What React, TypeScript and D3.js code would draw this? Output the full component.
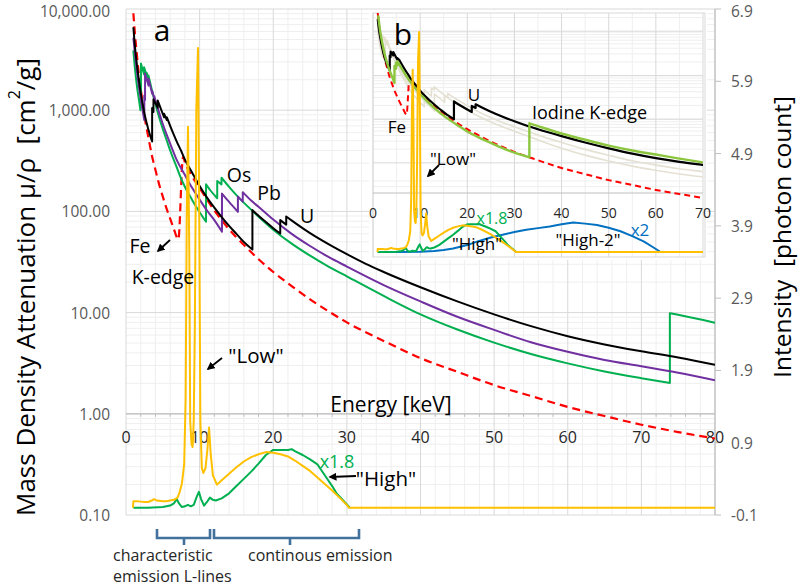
import React from 'react';
import * as d3 from 'd3';

type P = [number, number];

// ---------- attenuation data (E keV, mu/rho cm2/g); repeated E = absorption edge ----------
const feData: P[] = [
  [1, 9085], [1.25, 5300], [1.5, 3399], [1.75, 2230], [2, 1626], [2.5, 880], [3, 557.6], [3.5, 362],
  [4, 256.7], [4.5, 185], [5, 139.8], [5.5, 107], [6, 84.8], [6.5, 67], [7.11, 53], [7.75, 345],
  [8, 305.6], [9, 221], [10, 170.6], [11, 131], [12, 102], [13, 82], [14, 66.4], [15, 55.5],
  [17.5, 36.5], [20, 25.2], [22.5, 18.3], [25, 13.5], [27.5, 10.3], [30, 8.0], [35, 5.25], [40, 3.55],
  [45, 2.6], [50, 1.92], [55, 1.5], [60, 1.17], [65, 0.95], [70, 0.78], [75, 0.66], [80, 0.57],
];
const uData: P[] = [
  [1, 6600], [1.25, 4000], [1.5, 2750], [2, 1480], [2.5, 930], [3, 660], [3.55, 490], [3.55, 1050],
  [3.73, 960], [3.73, 1280], [4.3, 1060], [4.3, 1250], [4.8, 1000], [5.18, 850], [5.18, 920],
  [5.55, 800], [5.55, 850], [6, 700], [6.5, 570], [7, 470], [7.5, 395], [8, 325], [9, 240], [10, 178],
  [11, 137], [12, 109], [13, 88], [14, 72], [15, 60], [16, 50], [17.17, 42], [17.17, 103], [18, 90.6],
  [19, 78.4], [20, 68.3], [20.95, 60.4], [20.95, 82], [21.76, 74], [21.76, 89], [23, 76.6], [25, 61],
  [27.5, 47.5], [30, 37.8], [32.5, 30.5], [35, 25.2], [40, 17.8], [45, 12.9], [50, 9.6], [55, 7.35],
  [60, 5.85], [65, 4.85], [70, 4.15], [75, 3.6], [80, 3.05],
];
const pbData: P[] = [
  [1, 5210], [1.25, 3400], [1.5, 2356], [2, 1285], [2.484, 800], [2.484, 1400], [2.586, 1260],
  [2.586, 2300], [3.066, 1750], [3.066, 2050], [3.554, 1450], [3.554, 1560], [3.851, 1300],
  [3.851, 1370], [4, 1250], [4.5, 950], [5, 730], [5.5, 580], [6, 467], [7, 310], [8, 228.7],
  [9, 170], [10, 130.6], [11, 102], [12, 82], [13.035, 63], [13.035, 150], [14, 124], [15.2, 99],
  [15.2, 140], [15.86, 125], [15.86, 155], [17, 128], [18, 111], [20, 83], [22.5, 60], [25, 45.5],
  [27.5, 35.5], [30, 28.5], [35, 18.7], [40, 12.9], [45, 9.1], [50, 6.75], [55, 5.1], [60, 4.1],
  [65, 3.4], [70, 2.95], [75, 2.55], [80, 2.15],
];
const osData: P[] = [
  [1, 3900], [1.25, 2450], [1.5, 1700], [1.75, 1280], [1.96, 1000], [1.96, 1300], [2.03, 1230],
  [2.03, 2900], [2.46, 2250], [2.46, 2650], [2.79, 2200], [2.79, 2350], [3.05, 2050], [3.05, 2200],
  [3.5, 1600], [4, 1150], [4.5, 850], [5, 650], [5.5, 510], [6, 400], [7, 260], [7.33, 225], [8, 175],
  [9, 129], [10, 98], [10.87, 79], [10.87, 185], [11.5, 160], [12.39, 135], [12.39, 200], [12.97, 185],
  [12.97, 215], [14, 175], [15, 145], [16, 122], [17.5, 96], [20, 66], [22.5, 48], [25, 36.5],
  [27.5, 28.5], [30, 22.8], [35, 14.6], [40, 9.6], [45, 6.8], [50, 5.05], [55, 3.9], [60, 3.15],
  [65, 2.62], [70, 2.25], [73.87, 2.02], [73.87, 9.85], [75, 9.5], [80, 7.95],
];
const iodineData: P[] = [
  [1.1, 8000], [1.5, 3700], [2, 1900], [2.5, 1100], [3, 720], [3.5, 500], [4, 370], [4.557, 262],
  [4.557, 620], [4.852, 540], [4.852, 730], [5.188, 640], [5.188, 790], [6, 560], [7, 380], [8, 270],
  [9, 200], [10, 150], [12, 92], [14, 60], [16, 42], [18, 30.5], [20, 22.5], [22.5, 16.5], [25, 12.6],
  [27.5, 9.7], [30, 7.7], [33.17, 6.1], [33.17, 34], [35, 29.5], [40, 20.3], [45, 14.8], [50, 11.0],
  [55, 8.6], [60, 7.0], [65, 5.7], [70, 4.7],
];

// ---------- spectra (E keV, intensity photon count) ----------
const lowSpectrum: P[] = [
  [0.95, 0], [1.0, 0.09], [1.5, 0.09], [2, 0.085], [2.5, 0.08], [3, 0.08], [3.5, 0.1], [3.8, 0.12],
  [4.2, 0.1], [5, 0.09], [5.5, 0.09], [6, 0.1], [6.5, 0.11], [7, 0.14], [7.3, 0.22], [7.6, 0.34],
  [7.9, 0.6], [8.1, 1.5], [8.25, 4.0], [8.42, 5.27], [8.6, 3.5], [8.72, 1.2], [8.9, 0.88], [9.05, 0.84],
  [9.2, 1.2], [9.35, 2.5], [9.55, 5.5], [9.78, 6.36], [9.95, 4.0], [10.1, 1.2], [10.3, 0.55],
  [10.5, 0.48], [10.8, 0.55], [11.05, 0.8], [11.28, 1.11], [11.5, 0.75], [11.8, 0.45], [12.35, 0.32],
  [13, 0.38], [14, 0.47], [15, 0.56], [16, 0.64], [17, 0.7], [18, 0.74], [19, 0.77], [20, 0.76],
  [21, 0.74], [22, 0.71], [23, 0.65], [24, 0.58], [25, 0.51], [26, 0.42], [27, 0.33], [28, 0.24],
  [29, 0.14], [30, 0.04], [30.3, 0], [80, 0],
];
const highSpectrum: P[] = [
  [1, 0], [3, 0], [5, 0.01], [6, 0.03], [6.5, 0.06], [6.9, 0.12], [7.2, 0.06], [7.6, 0.01], [8.0, 0.02],
  [8.4, 0.04], [8.8, 0.02], [9.2, 0.04], [9.6, 0.15], [9.9, 0.22], [10.2, 0.12], [10.6, 0.03],
  [11.0, 0.08], [11.4, 0.14], [11.8, 0.11], [12.2, 0.1], [13, 0.13], [14, 0.2], [15, 0.3], [16, 0.4],
  [17, 0.5], [18, 0.61], [19, 0.73], [20, 0.8], [21, 0.8], [22, 0.8], [22.5, 0.81], [23, 0.78],
  [24, 0.73], [25, 0.67], [26, 0.6], [27, 0.45], [28, 0.3], [28.6, 0.2], [29.5, 0.1], [30.4, 0],
];
const high2Spectrum: P[] = [
  [1, 0], [5, 0], [10, 0.01], [13, 0.03], [15, 0.06], [17, 0.1], [20, 0.2], [22.5, 0.32], [25, 0.42],
  [27.5, 0.5], [30, 0.58], [32.5, 0.64], [35, 0.69], [37.5, 0.74], [40, 0.8], [42.5, 0.85], [45, 0.82],
  [47.5, 0.78], [50, 0.7], [52.5, 0.6], [55, 0.46], [57.5, 0.3], [59.5, 0.13], [61, 0],
];

// ---------- ticks ----------
const energyTicks = [0, 10, 20, 30, 40, 50, 60, 70, 80];
const muTicks = [0.1, 1, 10, 100, 1000, 10000];
const muTickLabels = ['0.10', '1.00', '10.00', '100.00', '1,000.00', '10,000.00'];
const intensityTicks = [-0.1, 0.9, 1.9, 2.9, 3.9, 4.9, 5.9, 6.9];
const insetEnergyTicks = [0, 10, 20, 30, 40, 50, 60, 70];
const insetGridMu = [4.6, 42, 380, 3600];

const FONT = "'Open Sans', 'Noto Sans', sans-serif";
const C = {
  black: '#000000', purple: '#7030A0', green: '#00B050', red: '#FF0000', yellow: '#FFC000',
  blue: '#0070C0', lightGreen: '#8CC63F', beige: '#E4E1D3', grid: '#D9D9D9', minor: '#EFEFEF',
  axis: '#BFBFBF', tick: '#595959', bracket: '#41719C',
};

function pathWithEdges(data: P[], fx: (v: number) => number, fy: (v: number) => number, curve: d3.CurveFactory) {
  const segs: P[][] = [[]];
  data.forEach((p, i) => {
    if (i > 0 && p[0] === data[i - 1][0]) segs.push([]);
    segs[segs.length - 1].push(p);
  });
  const line = d3.line<P>().x(d => fx(d[0])).y(d => fy(d[1])).curve(curve);
  let out = '';
  segs.forEach((s, i) => {
    let p = (line(s) || '').replace(/Z$/, '');
    if (i > 0) p = 'L' + p.slice(1);
    out += p;
  });
  return out;
}

export default function App() {
  const x = d3.scaleLinear().domain([0, 80]).range([126, 715]);
  const yMu = d3.scaleLog().domain([0.1, 10000]).range([515, 9]);
  const yI = d3.scaleLinear().domain([-0.1, 6.9]).range([515, 9]);
  const xi = d3.scaleLinear().domain([0, 70]).range([373, 703]);
  const yiMu = d3.scaleLog().domain([1, 10000]).range([193, 193 - 4 * 45.5]);
  const yiI = d3.scaleLinear().domain([0, 7]).range([252, 252 - 7 * 34.6]);

  const mono = d3.curveMonotoneX;
  const spec = d3.line<P>().curve(d3.curveLinear);

  const minorMu: number[] = [];
  [0.1, 1, 10, 100, 1000].forEach(d => { for (let k = 2; k <= 9; k++) minorMu.push(k * d); });
  const minorE = d3.range(0, 81, 2).filter(v => v % 10 !== 0);
  const insetMinor: number[] = [];
  insetGridMu.forEach(v => { for (let k = 2; k <= 9; k++) insetMinor.push(v * k); });
  [2, 3, 4].forEach(k => insetMinor.push(k * 0.46 * 1));

  const insetVert = d3.range(0, 71, 5);

  const curveEl = (data: P[], color: string, fx: any, fy: any, w = 2, dash?: string) => (
    <path d={pathWithEdges(data, fx, fy, mono)} fill="none" stroke={color} strokeWidth={w}
      strokeDasharray={dash} strokeLinejoin="round" />
  );
  const specEl = (data: P[], color: string, fx: any, fy: any, w = 2) => (
    <path d={spec.x(d => fx(d[0])).y(d => fy(d[1]))(data) || ''} fill="none" stroke={color}
      strokeWidth={w} strokeLinejoin="round" />
  );

  const txt = (s: any, xx: number, yy: number, size: number, opts: any = {}) => (
    <text x={xx} y={yy} fontSize={size} fontFamily={FONT} dominantBaseline="central"
      textAnchor={opts.anchor || 'middle'} fill={opts.fill || '#000'}>{s}</text>
  );

  return (
    <svg width={800} height={587} style={{ position: 'fixed', left: 0, top: 0, background: '#fff' }}>
      <defs>
        <marker id="ah" viewBox="0 0 10 10" refX="8" refY="5" markerWidth="4.5" markerHeight="4.5" orient="auto">
          <path d="M0,0 L10,5 L0,10 z" fill="#000" />
        </marker>
        <clipPath id="main"><rect x={126} y={9} width={589} height={506} /></clipPath>
        <clipPath id="ins"><rect x={373} y={13} width={330} height={244} /></clipPath>
      </defs>
      <rect x={0} y={0} width={800} height={587} fill="#fff" />

      {/* main grid */}
      {minorMu.map(v => <line key={'mm' + v} x1={126} x2={715} y1={yMu(v)} y2={yMu(v)} stroke={C.minor} strokeWidth={1} />)}
      {minorE.map(v => <line key={'me' + v} x1={x(v)} x2={x(v)} y1={9} y2={515} stroke={C.minor} strokeWidth={1} />)}
      {energyTicks.map(v => <line key={'ge' + v} x1={x(v)} x2={x(v)} y1={9} y2={515} stroke={C.grid} strokeWidth={1} />)}
      {muTicks.map(v => <line key={'gm' + v} x1={126} x2={715} y1={yMu(v)} y2={yMu(v)} stroke={C.grid} strokeWidth={1} />)}
      <line x1={126} x2={715} y1={yMu(1)} y2={yMu(1)} stroke={C.axis} strokeWidth={1.2} />
      {minorE.map(v => <line key={'mt' + v} x1={x(v)} x2={x(v)} y1={yMu(1)} y2={yMu(1) + 3} stroke={C.axis} />)}
      <line x1={715} x2={715} y1={9} y2={515} stroke={C.axis} strokeWidth={1.2} />
      {intensityTicks.map(v => <line key={'it' + v} x1={715} x2={721} y1={yI(v)} y2={yI(v)} stroke={C.axis} />)}

      {/* tick labels */}
      {muTicks.map((v, i) => (
        <text key={'ml' + v} x={110} y={Math.max(yMu(v), 11)} fontSize={15.5} fontFamily={FONT} fill={C.tick}
          textAnchor="end" dominantBaseline="central">{muTickLabels[i]}</text>
      ))}
      {intensityTicks.map(v => (
        <text key={'il' + v} x={731} y={Math.max(yI(v), 11)} fontSize={15.5} fontFamily={FONT} fill={C.tick}
          textAnchor="start" dominantBaseline="central">{v.toFixed(1)}</text>
      ))}
      {energyTicks.map(v => (
        <text key={'el' + v} x={x(v)} y={437} fontSize={16} fontFamily={FONT} fill="#262626"
          textAnchor="middle" dominantBaseline="central">{v}</text>
      ))}

      {/* main curves */}
      <g clipPath="url(#main)">
        {curveEl(feData, C.red, x, yMu, 2.2, '8,5')}
        {curveEl(osData, C.green, x, yMu)}
        {curveEl(pbData, C.purple, x, yMu)}
        {curveEl(uData, C.black, x, yMu)}
        {specEl(highSpectrum, C.green, x, yI)}
        {specEl(lowSpectrum, C.yellow, x, yI)}
      </g>

      {/* inset */}
      <g>
        <rect x={369} y={10} width={338} height={250} fill="#fff" />
        {insetMinor.map((v, i) => yiMu(v) > 13 && yiMu(v) < 193 ?
          <line key={'im' + i} x1={373} x2={703} y1={yiMu(v)} y2={yiMu(v)} stroke={C.minor} /> : null)}
        {insetVert.map(v => <line key={'iv' + v} x1={xi(v)} x2={xi(v)} y1={13} y2={257}
          stroke={v % 10 === 0 ? C.grid : C.minor} />)}
        {insetGridMu.map(v => <line key={'ig' + v} x1={373} x2={703} y1={yiMu(v)} y2={yiMu(v)} stroke={C.grid} />)}
        <rect x={373} y={13} width={332} height={244} fill="none" stroke={C.grid} />
        <line x1={373} x2={703} y1={193} y2={193} stroke={C.axis} strokeWidth={1.2} />
        {insetEnergyTicks.map(v => (
          <text key={'iel' + v} x={xi(v)} y={212} fontSize={14} fontFamily={FONT} fill="#262626"
            textAnchor="middle" dominantBaseline="central">{v}</text>
        ))}
        <g clipPath="url(#ins)">
          {curveEl(osData, C.beige, xi, yiMu, 1.6)}
          {curveEl(pbData, C.beige, xi, yiMu, 1.6)}
          {curveEl(feData, C.red, xi, yiMu, 2, '6,4')}
          {curveEl(uData, C.black, xi, yiMu, 2.2)}
          {curveEl(iodineData, C.lightGreen, xi, yiMu, 2.4)}
          {specEl(high2Spectrum, C.blue, xi, yiI)}
          {specEl(highSpectrum, C.green, xi, yiI)}
          {specEl(lowSpectrum, C.yellow, xi, yiI)}
        </g>
        {txt('b', 403, 33, 30)}
        {txt('Fe', 397, 126, 17)}
        {txt('U', 474, 94, 17)}
        {txt('Iodine K-edge', 532, 112, 18, { anchor: 'start' })}
        {txt('"Low"', 453, 158, 17)}
        <line x1={439} y1={165} x2={428} y2={176} stroke="#000" strokeWidth={1.8} markerEnd="url(#ah)" />
        {txt('x1.8', 492, 218, 16, { fill: C.green })}
        {txt('"High"', 477, 243, 17)}
        {txt('"High-2"', 588, 239, 17)}
        {txt('x2', 640, 229, 17, { fill: C.blue })}
      </g>

      {/* main annotations */}
      {txt('a', 162, 29, 30)}
      {txt('Os', 239, 174, 19.5)}
      {txt('Pb', 269, 192, 19.5)}
      {txt('U', 307, 215, 19.5)}
      {txt('Fe', 140, 245, 19.5)}
      {txt('K-edge', 163, 276, 19.5)}
      <line x1={170} y1={240} x2={158} y2={251} stroke="#000" strokeWidth={1.8} markerEnd="url(#ah)" />
      {txt('"Low"', 256, 355, 20.5)}
      <line x1={222} y1={358} x2={208} y2={369} stroke="#000" strokeWidth={1.8} markerEnd="url(#ah)" />
      {txt('Energy [keV]', 391, 404, 21)}
      {txt('x1.8', 337, 461, 18, { fill: C.green })}
      {txt('"High"', 386, 478, 20.5)}
      <line x1={356} y1={476} x2={330} y2={477} stroke="#000" strokeWidth={1.8} markerEnd="url(#ah)" />

      {/* brackets */}
      <path d="M157,529 L157,538 L210,538 L210,529 M184,538 L184,545" fill="none" stroke={C.bracket} strokeWidth={2.6} />
      <path d="M214,529 L214,538 L359,538 L359,529 M290,538 L290,545" fill="none" stroke={C.bracket} strokeWidth={2.6} />
      {txt('characteristic', 113, 555, 16, { anchor: 'start', fill: '#262626' })}
      {txt('emission L-lines', 113, 576, 16, { anchor: 'start', fill: '#262626' })}
      {txt('continous emission', 248, 555, 16, { anchor: 'start', fill: '#262626' })}

      {/* axis titles */}
      <text transform="translate(25,287) rotate(-90)" fontSize={26} fontFamily={FONT} textAnchor="middle"
        dominantBaseline="central" fill="#000">
        {'Mass Density Attenuation μ/ρ\u00A0\u00A0[cm'}<tspan baselineShift="super" fontSize={16}>2</tspan>{'/g]'}
      </text>
      <text transform="translate(781,237) rotate(-90)" fontSize={24.5} fontFamily={FONT} textAnchor="middle"
        dominantBaseline="central" fill="#000">
        {'Intensity\u00A0\u00A0[photon count]'}
      </text>
    </svg>
  );
}
